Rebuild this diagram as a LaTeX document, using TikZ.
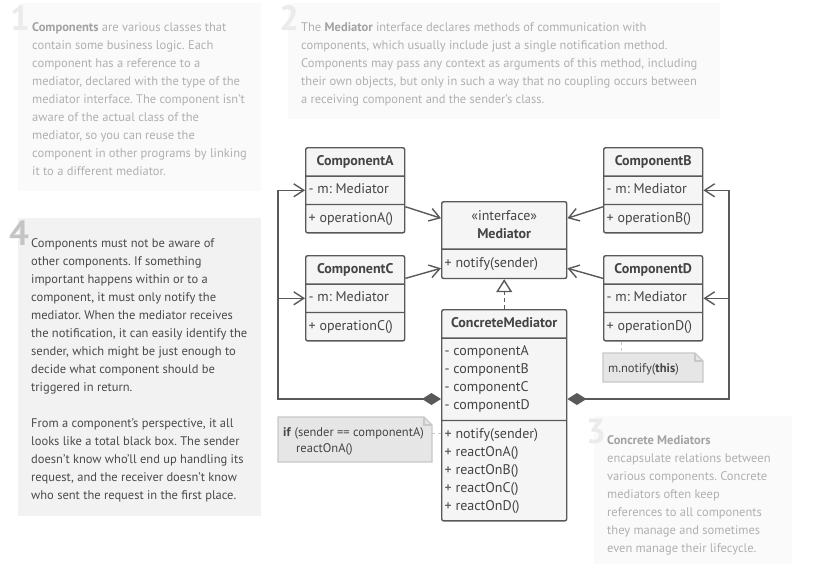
\documentclass[tikz,border=0pt]{standalone}
\usepackage{fontspec}
\setmainfont{PT Sans}
\usepackage{tikz}
\usetikzlibrary{shapes.multipart,arrows.meta,positioning,calc,backgrounds}
\usepackage{xcolor}
\frenchspacing
\definecolor{umlline}{HTML}{595959}
\definecolor{classfill}{HTML}{F5F5F5}
\definecolor{classtext}{HTML}{444444}
\definecolor{fadefill}{HTML}{FAFAFA}
\definecolor{fadetext}{HTML}{B0B0B0}
\definecolor{fadebold}{HTML}{A2A2A2}
\definecolor{fadenum}{HTML}{EBEBEB}
\definecolor{tipfill}{HTML}{F2F2F2}
\definecolor{tiptext}{HTML}{4A4A4A}
\definecolor{tipnum}{HTML}{C4C4C4}
\definecolor{notefill}{HTML}{E6E6E6}
\definecolor{noteline}{HTML}{C8C8C8}
\tikzset{
    umlclass/.style={draw=umlline, line width=1.4pt, fill=classfill, rounded corners=2pt, rectangle split, rectangle split parts=3, rectangle split part align={center,left,left}, align=left, text=classtext, font=\fontsize{14}{18}\selectfont, inner xsep=3pt, inner ysep=4.5pt, minimum width=99pt, anchor=north west},
    assoc/.style={draw=umlline, line width=1.4pt, -{Straight Barb[length=10pt,width=13pt]}},
    compose/.style={draw=umlline, line width=1.4pt, {Diamond[length=19pt,width=12pt]}-{Straight Barb[length=10pt,width=13pt]}},
    realize/.style={draw=umlline, line width=1.4pt, dash pattern=on 4pt off 3pt, -{Triangle[length=13pt,width=16pt,fill=white]}},
    notelink/.style={draw=noteline, line width=1pt, dash pattern=on 3pt off 3pt},
    notetext/.style={inner sep=0pt, anchor=north west, align=left, text=classtext, font=\fontsize{12.5}{16}\selectfont},
    notebg/.style={draw=noteline, line width=1.2pt, fill=notefill},
    fadebox/.style={fill=fadefill, anchor=north west, inner sep=0pt},
    fadetxt/.style={anchor=north west, inner sep=0pt, align=left, text=fadetext, font=\fontsize{12.5}{18}\selectfont},
    fadenumber/.style={anchor=base west, inner sep=0pt, text=fadenum, font=\fontsize{35}{35}\selectfont\bfseries},
    tipbox/.style={fill=tipfill, anchor=north west, inner sep=0pt},
    tiptxt/.style={anchor=north west, inner sep=0pt, align=left, text=tiptext, font=\fontsize{12.5}{18}\selectfont},
    tipnumber/.style={anchor=base west, inner sep=0pt, text=tipnum, font=\fontsize{35}{35}\selectfont\bfseries}
}
\newcommand{\fb}[1]{\textcolor{fadebold}{\textbf{#1}}}

\begin{document}
\begin{tikzpicture}[x=1pt, y=-1pt]
        \useasboundingbox (0,0) rectangle (836,565);

        % Explanation boxes
        \node[fadebox, minimum width=243pt, minimum height=188pt] (bg1) at (18,3) {};
        \node[fadenumber] (n1) at (10,30) {1};
        \node[fadetxt] (t1) at (32,18.4) {\strut\fb{Components} are various classes that\\contain some business logic. Each\\component has a reference to a\\mediator, declared with the type of the\\mediator interface. The component isn’t\\aware of the actual class of the\\mediator, so you can reuse the\\component in other programs by linking\\it to a different mediator.};

        \node[fadebox, minimum width=432pt, minimum height=116pt] (bg2) at (288,3) {};
        \node[fadenumber] (n2) at (279,30) {2};
        \node[fadetxt] (t2) at (301,18.4) {\strut The \fb{Mediator} interface declares methods of communication with\\components, which usually include just a single notification method.\\Components may pass any context as arguments of this method, including\\their own objects, but only in such a way that no coupling occurs between\\a receiving component and the sender’s class.};

        \node[fadebox, minimum width=198pt, minimum height=148pt] (bg3) at (594,416) {};
        \node[fadenumber] (n3) at (586,443) {3};
        \node[fadetxt] (t3) at (607,431.4) {\strut\fb{Concrete Mediators}\\encapsulate relations between\\various components. Concrete\\mediators often keep\\references to all components\\they manage and sometimes\\even manage their lifecycle.};

        \node[tipbox, minimum width=243pt, minimum height=298pt] (bg4) at (18,218) {};
        \node[tipnumber] (n4) at (9,245) {4};
        \node[tiptxt] (t4) at (31,234.4) {\strut Components must not be aware of\\other components. If something\\important happens within or to a\\component, it must only notify the\\mediator. When the mediator receives\\the notification, it can easily identify the\\sender, which might be just enough to\\decide what component should be\\triggered in return.\\[18pt]From a component’s perspective, it all\\looks like a total black box. The sender\\doesn’t know who’ll end up handling its\\request, and the receiver doesn’t know\\who sent the request in the first place.};

        % Components
        \node[umlclass] (compA) at (305,147) {\strut\textbf{ComponentA}\nodepart{two}\strut- m: Mediator\nodepart{three}\strut+ operationA()};
        \node[umlclass] (compC) at (305,255) {\strut\textbf{ComponentC}\nodepart{two}\strut- m: Mediator\nodepart{three}\strut+ operationC()};
        \node[umlclass] (compB) at (603,147) {\strut\textbf{ComponentB}\nodepart{two}\strut- m: Mediator\nodepart{three}\strut+ operationB()};
        \node[umlclass] (compD) at (603,255) {\strut\textbf{ComponentD}\nodepart{two}\strut- m: Mediator\nodepart{three}\strut+ operationD()};

        % Mediators
        \node[umlclass, rectangle split parts=2, rectangle split part align={center,left}, align=center, inner ysep=5pt, minimum width=125pt] (med) at (441,201) {\strut«interface»\\\strut\textbf{Mediator}\nodepart{two}\strut+ notify(sender)};
        \node[umlclass, minimum width=125pt] (cm) at (441,309) {\strut\textbf{ConcreteMediator}\nodepart{two}\strut- componentA\\\strut- componentB\\\strut- componentC\\\strut- componentD\nodepart{three}\strut+ notify(sender)\\\strut+ reactOnA()\\\strut+ reactOnB()\\\strut+ reactOnC()\\\strut+ reactOnD()};

        % Notes
        \coordinate (n1nw) at (603,353);
        \coordinate (n1se) at (703,382);
        \coordinate (n2nw) at (278,417);
        \coordinate (n2se) at (432,462);
        \node[notetext] (note1) at (608,360.8) {\strut m.notify(\textbf{this})};
        \node[notetext] (note2) at (283,424.8) {\strut\textbf{if} (sender == componentA)\\\hspace*{13pt}reactOnA()};
        \begin{scope}[on background layer]
            \draw[notebg] (n1nw) -- ([xshift=-8pt]n1se |- n1nw) -- ([yshift=-8pt]n1se |- n1nw) -- (n1se) -- (n1nw |- n1se) -- cycle;
            \draw[notebg] (n2nw) -- ([xshift=-8pt]n2se |- n2nw) -- ([yshift=-8pt]n2se |- n2nw) -- (n2se) -- (n2nw |- n2se) -- cycle;
        \end{scope}
        \draw[noteline, line width=1.2pt] ([xshift=-8pt]n1se |- n1nw) |- ([yshift=-8pt]n1se |- n1nw);
        \draw[noteline, line width=1.2pt] ([xshift=-8pt]n2se |- n2nw) |- ([yshift=-8pt]n2se |- n2nw);
        \coordinate (dlink) at ($(compD.south west)!.18!(compD.south east)$);
        \draw[notelink] (dlink) -- (dlink |- n1nw);
        \coordinate (clink) at (432,433);
        \draw[notelink] (clink) -- (cm.west |- clink);

        % Links to the mediator
        \draw[assoc] ($(compA.north east)!.69!(compA.south east)$) -- ($(med.north west)!.22!(med.south west)$);
        \draw[assoc] ($(compC.north east)!.27!(compC.south east)$) -- ($(med.north west)!.86!(med.south west)$);
        \draw[assoc] ($(compB.north west)!.69!(compB.south west)$) -- ($(med.north east)!.22!(med.south east)$);
        \draw[assoc] ($(compD.north west)!.27!(compD.south west)$) -- ($(med.north east)!.86!(med.south east)$);
        \draw[realize] (cm.north) -- (med.south);

        % Concrete mediator keeps the components
        \coordinate (busL) at (278,399);
        \coordinate (busR) at (729,399);
        \draw[compose] (cm.west |- busL) -- (busL) |- (compA.west);
        \draw[assoc] (busL |- compC.west) -- (compC.west);
        \draw[compose] (cm.east |- busR) -- (busR) |- (compB.east);
        \draw[assoc] (busR |- compD.east) -- (compD.east);
    \end{tikzpicture}
\end{document}
